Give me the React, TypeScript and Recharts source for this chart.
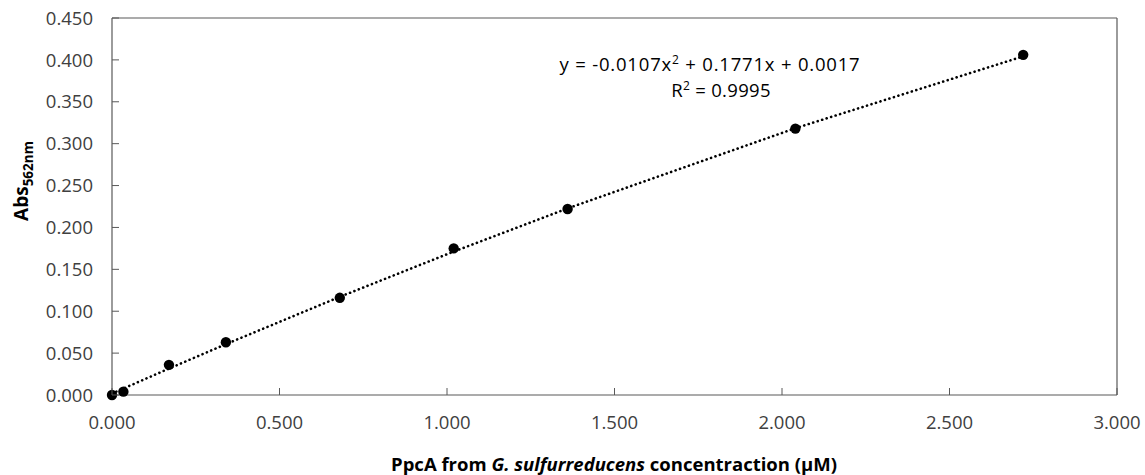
import React from "react";
import {
  ScatterChart,
  Scatter,
  XAxis,
  YAxis,
  ReferenceLine,
} from "recharts";

// Protein concentration (µM) and measured absorbance at 562 nm
const concentration = [0, 0.034, 0.17, 0.34, 0.68, 1.02, 1.36, 2.04, 2.72];
const absorbance = [0.0, 0.004, 0.036, 0.063, 0.116, 0.175, 0.222, 0.318, 0.406];

// Polynomial trendline coefficients (y = a·x² + b·x + c)
const fitA = -0.0107;
const fitB = 0.1771;
const fitC = 0.0017;
const fitR2 = "0.9995";

const xTicks = [0, 0.5, 1, 1.5, 2, 2.5, 3];
const yTicks = [0, 0.05, 0.1, 0.15, 0.2, 0.25, 0.3, 0.35, 0.4, 0.45];

const points = concentration.map((x, i) => ({ x, y: absorbance[i] }));
const trend = concentration.map((x) => ({ x, y: fitA * x * x + fitB * x + fitC }));

const W = 1145;
const H = 475;
const FONT = "'Open Sans', 'Noto Sans', sans-serif";
const AXIS = "#595959";
const LABEL = "#404040";

const YTick = (props: any) => {
  const { x, y, payload } = props;
  return (
    <g>
      <line x1={x} x2={x + 7} y1={y} y2={y} stroke={AXIS} strokeWidth={1} />
      <text
        x={x - 19}
        y={y}
        dy="0.36em"
        textAnchor="end"
        fontFamily={FONT}
        fontSize={18.5}
        fill={LABEL}
      >
        {Number(payload.value).toFixed(3)}
      </text>
    </g>
  );
};

const XTick = (props: any) => {
  const { x, y, payload } = props;
  return (
    <g>
      <line x1={x} x2={x} y1={y} y2={y - 7} stroke={AXIS} strokeWidth={1} />
      <text
        x={x}
        y={y + 34}
        textAnchor="middle"
        fontFamily={FONT}
        fontSize={18.5}
        fill={LABEL}
      >
        {Number(payload.value).toFixed(3)}
      </text>
    </g>
  );
};

const Dot = (props: any) => <circle cx={props.cx} cy={props.cy} r={5.2} fill="#000" />;
const NoDot = () => <g />;

export default function App() {
  return (
    <div style={{ position: "absolute", left: 0, top: 0, width: W, height: H, background: "#fff" }}>
      <ScatterChart
        width={W}
        height={H}
        margin={{ top: 18, right: 28, bottom: 0, left: 0 }}
      >
        <XAxis
          type="number"
          dataKey="x"
          domain={[0, 3]}
          ticks={xTicks}
          height={80}
          tickSize={0}
          tickMargin={0}
          tickLine={false}
          tick={<XTick />}
          stroke={AXIS}
          axisLine={{ stroke: AXIS, strokeWidth: 1.2 }}
        />
        <YAxis
          type="number"
          dataKey="y"
          domain={[0, 0.45]}
          ticks={yTicks}
          width={112}
          tickSize={0}
          tickMargin={0}
          tickLine={false}
          tick={<YTick />}
          stroke={AXIS}
          axisLine={{ stroke: AXIS, strokeWidth: 1.2 }}
        />
        <ReferenceLine y={0.45} stroke={AXIS} strokeWidth={1.2} />
        <ReferenceLine x={3} stroke={AXIS} strokeWidth={1.2} />
        <Scatter
          data={trend}
          fill="#000"
          shape={NoDot}
          line={{
            stroke: "#000",
            strokeWidth: 2.6,
            strokeDasharray: "0.1 4.6",
            strokeLinecap: "round",
          }}
          legendType="none"
          isAnimationActive={false}
        />
        <Scatter data={points} fill="#000" shape={Dot} isAnimationActive={false} />
      </ScatterChart>
      <svg
        width={W}
        height={H}
        style={{ position: "absolute", left: 0, top: 0, pointerEvents: "none" }}
      >
        <text
          x={710}
          y={71}
          textAnchor="middle"
          fontFamily={FONT}
          fontSize={18.5}
          letterSpacing={0.8}
          fill="#000"
        >
          {`y = ${fitA.toFixed(4)}x`}
          <tspan dy={-7} fontSize={12}>2</tspan>
          <tspan dy={7}>{` + ${fitB.toFixed(4)}x + ${fitC.toFixed(4)}`}</tspan>
        </text>
        <text
          x={721}
          y={97}
          textAnchor="middle"
          fontFamily={FONT}
          fontSize={18.5}
          letterSpacing={0.3}
          fill="#000"
        >
          R<tspan dy={-7} fontSize={12}>2</tspan>
          <tspan dy={7}>{` = ${fitR2}`}</tspan>
        </text>
        <text
          x={614}
          y={471}
          textAnchor="middle"
          fontFamily={FONT}
          fontSize={18.5}
          fontWeight="bold"
          fill="#000"
        >
          PpcA from <tspan fontStyle="italic">G. sulfurreducens</tspan> concentraction (μM)
        </text>
        <text
          transform="translate(28,181) rotate(-90)"
          textAnchor="middle"
          fontFamily={FONT}
          fontSize={19}
          fontWeight="bold"
          fill="#000"
        >
          Abs<tspan dy={5} fontSize={13.5}>562nm</tspan>
        </text>
      </svg>
    </div>
  );
}
